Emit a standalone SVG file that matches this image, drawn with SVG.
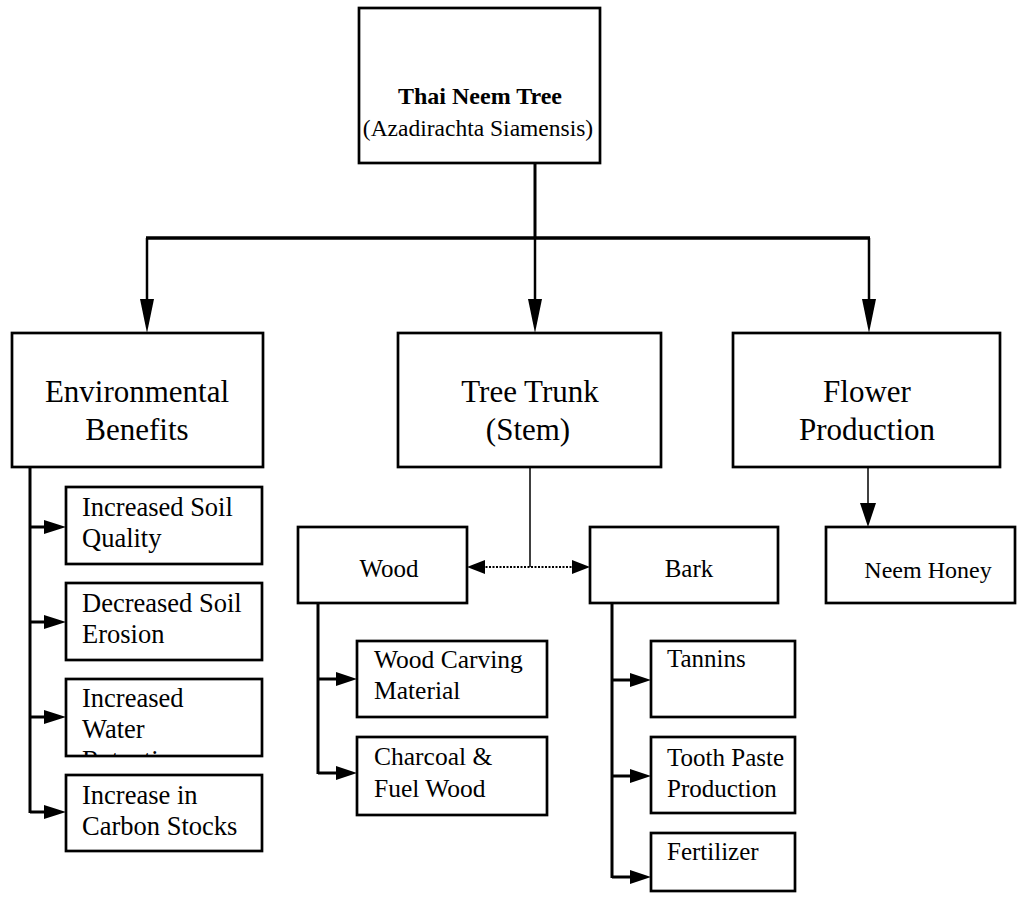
<svg xmlns="http://www.w3.org/2000/svg" width="1034" height="910" viewBox="0 0 1034 910">
<defs>
<style>
.box{fill:#fff;stroke:#000;stroke-width:2.7}
.t{font-family:"Liberation Serif","Times New Roman",serif;fill:#000}
.big{font-size:31px;text-anchor:middle}
.e{font-size:26.5px}
.w{font-size:25.5px}
.b{font-size:25px}
.ln{stroke:#000;fill:none}
.ah{fill:#000}
</style>
<clipPath id="c3"><rect x="66" y="680" width="196" height="76"/></clipPath>
</defs>
<rect width="1034" height="910" fill="#fff"/>
<g id="connectors">
<line class="ln" x1="535" y1="163" x2="535" y2="238" stroke-width="3"/>
<line class="ln" x1="146" y1="238" x2="870" y2="238" stroke-width="3.5"/>
<line class="ln" x1="147" y1="238" x2="147" y2="305" stroke-width="2.5"/>
<polygon class="ah" points="140,299 154,299 147,333"/>
<line class="ln" x1="535" y1="238" x2="535" y2="305" stroke-width="2.5"/>
<polygon class="ah" points="528,299 542,299 535,333"/>
<line class="ln" x1="869" y1="238" x2="869" y2="305" stroke-width="2.5"/>
<polygon class="ah" points="862,299 876,299 869,333"/>
<line class="ln" x1="30" y1="467" x2="30" y2="813" stroke-width="3"/>
<line class="ln" x1="30" y1="527" x2="47" y2="527" stroke-width="3"/>
<polygon class="ah" points="44,520 44,534 66,527"/>
<line class="ln" x1="30" y1="622" x2="47" y2="622" stroke-width="3"/>
<polygon class="ah" points="44,615 44,629 66,622"/>
<line class="ln" x1="30" y1="717" x2="47" y2="717" stroke-width="3"/>
<polygon class="ah" points="44,710 44,724 66,717"/>
<line class="ln" x1="30" y1="812" x2="47" y2="812" stroke-width="3"/>
<polygon class="ah" points="44,805 44,819 66,812"/>
<line class="ln" x1="530" y1="467" x2="530" y2="567" stroke-width="1.5"/>
<line class="ln" x1="482" y1="567" x2="575" y2="567" stroke-width="2" stroke-dasharray="2,1.5"/>
<polygon class="ah" points="467,567 485,560 485,574"/>
<polygon class="ah" points="590,567 572,560 572,574"/>
<line class="ln" x1="318" y1="603" x2="318" y2="774" stroke-width="3"/>
<line class="ln" x1="318" y1="679" x2="338" y2="679" stroke-width="3"/>
<polygon class="ah" points="336,672 336,686 357,679"/>
<line class="ln" x1="318" y1="773" x2="338" y2="773" stroke-width="3"/>
<polygon class="ah" points="336,766 336,780 357,773"/>
<line class="ln" x1="612" y1="603" x2="612" y2="878" stroke-width="3"/>
<line class="ln" x1="612" y1="680" x2="632" y2="680" stroke-width="3"/>
<polygon class="ah" points="630,673 630,687 651,680"/>
<line class="ln" x1="612" y1="776" x2="632" y2="776" stroke-width="3"/>
<polygon class="ah" points="630,769 630,783 651,776"/>
<line class="ln" x1="612" y1="877" x2="632" y2="877" stroke-width="3"/>
<polygon class="ah" points="630,870 630,884 651,877"/>
<line class="ln" x1="868" y1="467" x2="868" y2="505" stroke-width="1.5"/>
<polygon class="ah" points="860,503 876,503 868,527"/>
</g>
<g id="node-root">
<rect class="box" x="359" y="8" width="241" height="155" stroke-width="3"/>
<text class="t" x="480" y="104" font-size="24" font-weight="bold" text-anchor="middle">Thai Neem Tree</text>
<text class="t" x="478" y="136" font-size="23.5" text-anchor="middle">(Azadirachta Siamensis)</text>
</g>
<g id="node-env">
<rect class="box" x="12" y="333" width="251" height="134"/>
<text class="t big" x="137" y="402">Environmental</text>
<text class="t big" x="137" y="440">Benefits</text>
</g>
<g id="node-trunk">
<rect class="box" x="398" y="333" width="263" height="134"/>
<text class="t big" x="530" y="402">Tree Trunk</text>
<text class="t big" x="528" y="440">(Stem)</text>
</g>
<g id="node-flower">
<rect class="box" x="733" y="333" width="267" height="134"/>
<text class="t big" x="867" y="402">Flower</text>
<text class="t big" x="867" y="440">Production</text>
</g>
<g id="node-soil-quality">
<rect class="box" x="66" y="487" width="196" height="77"/>
<text class="t e" x="82" y="516">Increased Soil</text>
<text class="t e" x="82" y="547">Quality</text>
</g>
<g id="node-soil-erosion">
<rect class="box" x="66" y="583" width="196" height="77"/>
<text class="t e" x="82" y="612">Decreased Soil</text>
<text class="t e" x="82" y="643">Erosion</text>
</g>
<g id="node-water">
<rect class="box" x="66" y="679" width="196" height="77"/>
<text class="t e" x="82" y="707">Increased</text>
<text class="t e" x="82" y="738">Water</text>
<text class="t e" x="82" y="769" clip-path="url(#c3)">Retention</text>
</g>
<g id="node-carbon">
<rect class="box" x="66" y="775" width="196" height="76"/>
<text class="t e" x="82" y="804">Increase in</text>
<text class="t e" x="82" y="835">Carbon Stocks</text>
</g>
<g id="node-wood">
<rect class="box" x="298" y="527" width="169" height="76"/>
<text class="t" x="389" y="577" font-size="25" text-anchor="middle">Wood</text>
</g>
<g id="node-bark">
<rect class="box" x="590" y="527" width="188" height="76" stroke-width="3"/>
<text class="t" x="689" y="577" font-size="25" text-anchor="middle">Bark</text>
</g>
<g id="node-honey">
<rect class="box" x="826" y="527" width="189" height="76"/>
<text class="t" x="928" y="578" font-size="24" text-anchor="middle">Neem Honey</text>
</g>
<g id="node-carving">
<rect class="box" x="357" y="641" width="190" height="76"/>
<text class="t w" x="374" y="668">Wood Carving</text>
<text class="t w" x="374" y="699">Material</text>
</g>
<g id="node-charcoal">
<rect class="box" x="357" y="737" width="190" height="78" stroke-width="3"/>
<text class="t w" x="374" y="765">Charcoal &amp;</text>
<text class="t w" x="374" y="797">Fuel Wood</text>
</g>
<g id="node-tannins">
<rect class="box" x="651" y="641" width="144" height="76"/>
<text class="t b" x="667" y="667">Tannins</text>
</g>
<g id="node-toothpaste">
<rect class="box" x="651" y="737" width="144" height="76"/>
<text class="t b" x="667" y="766">Tooth Paste</text>
<text class="t b" x="667" y="797">Production</text>
</g>
<g id="node-fertilizer">
<rect class="box" x="651" y="833" width="144" height="58"/>
<text class="t b" x="667" y="860">Fertilizer</text>
</g>
</svg>
